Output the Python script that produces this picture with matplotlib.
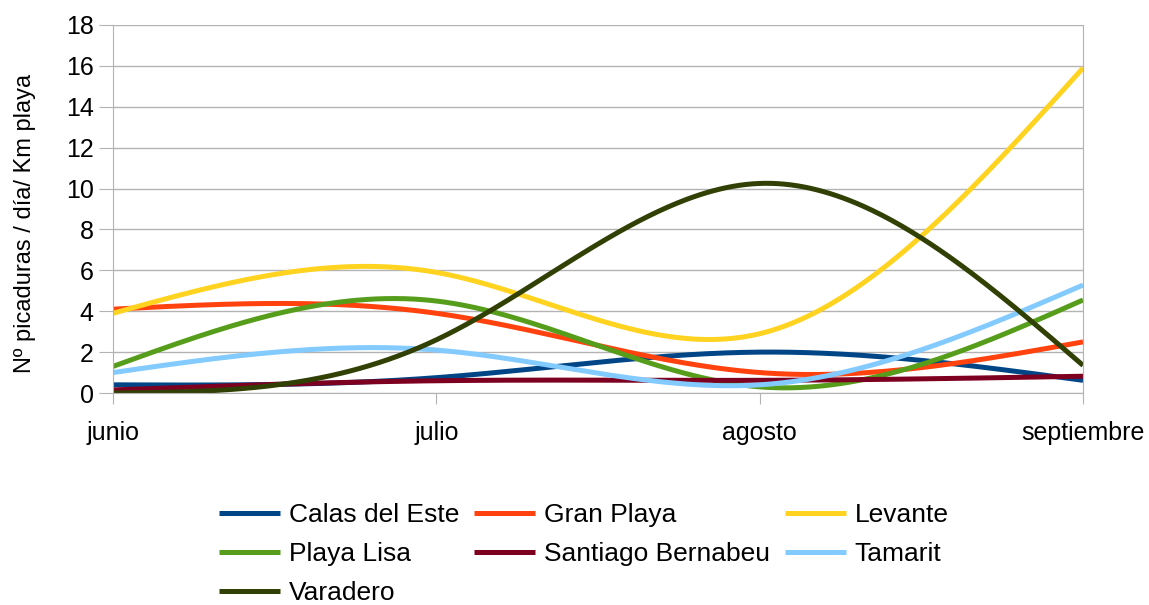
import matplotlib
matplotlib.use("Agg")
import matplotlib.pyplot as plt
import numpy as np

plt.rcParams['font.family'] = ['Liberation Sans', 'DejaVu Sans']

months = ["junio", "julio", "agosto", "septiembre"]

calas_del_este = [0.4, 0.75, 2.0, 0.62]
gran_playa = [4.1, 3.9, 1.0, 2.5]
levante = [3.9, 5.9, 2.9, 15.9]
playa_lisa = [1.3, 4.5, 0.3, 4.55]
santiago_bernabeu = [0.15, 0.6, 0.62, 0.82]
tamarit = [1.0, 2.1, 0.4, 5.28]
varadero = [0.0, 2.6, 10.25, 1.35]

series = [
    ("Calas del Este", calas_del_este, "#004586"),
    ("Gran Playa", gran_playa, "#ff420e"),
    ("Levante", levante, "#ffd320"),
    ("Playa Lisa", playa_lisa, "#579d1c"),
    ("Santiago Bernabeu", santiago_bernabeu, "#7e0021"),
    ("Tamarit", tamarit, "#83caff"),
    ("Varadero", varadero, "#314004"),
]


def natural_spline(y, npts=300):
    # natural cubic spline on x = 0..n-1 (like the smoothed line in calc)
    y = np.asarray(y, dtype=float)
    n = len(y)
    A = np.zeros((n, n))
    b = np.zeros(n)
    A[0, 0] = 1
    A[-1, -1] = 1
    for i in range(1, n - 1):
        A[i, i - 1] = 1
        A[i, i] = 4
        A[i, i + 1] = 1
        b[i] = 6 * (y[i + 1] - 2 * y[i] + y[i - 1])
    M = np.linalg.solve(A, b)
    xs = np.linspace(0, n - 1, npts)
    ys = np.empty_like(xs)
    for k, x in enumerate(xs):
        i = min(int(np.floor(x)), n - 2)
        t = x - i
        ys[k] = (M[i] * (1 - t) ** 3 / 6 + M[i + 1] * t ** 3 / 6
                 + (y[i] - M[i] / 6) * (1 - t) + (y[i + 1] - M[i + 1] / 6) * t)
    return xs, ys


fig = plt.figure(figsize=(11.49, 6.05), dpi=100)
ax = fig.add_axes([0.0983, 0.3504, 0.8443, 0.6083])

lines = []
for name, vals, col in series:
    xs, ys = natural_spline(vals)
    ln, = ax.plot(xs, ys, color=col, lw=3.6, label=name, solid_capstyle='butt')
    lines.append(ln)

ax.set_xlim(0, 3)
ax.set_ylim(0, 18)
ax.set_yticks(range(0, 19, 2))
ax.set_xticks(range(4))
ax.set_xticklabels(months)
ax.grid(axis='y', color='#b3b3b3', lw=1)
ax.set_axisbelow(True)
ax.spines['top'].set_visible(False)
for s in ['left', 'bottom', 'right']:
    ax.spines[s].set_color('#b3b3b3')
ax.tick_params(axis='y', length=10, color='#b3b3b3', labelsize=18, pad=4)
ax.tick_params(axis='x', length=8, color='#b3b3b3', labelsize=18, pad=12)
ax.set_ylabel("Nº picaduras / día/ Km playa", fontsize=17)
ax.yaxis.set_label_coords(-0.079, 0.462)

# legend is filled row by row in the reference
order = [0, 3, 6, 1, 4, 2, 5]
fig.legend([lines[i] for i in order], [series[i][0] for i in order],
           loc='upper left', bbox_to_anchor=(0.191, 0.168), ncol=3,
           frameon=False, fontsize=19, handlelength=2.31, handletextpad=0.34,
           columnspacing=0.55, labelspacing=0.56, borderaxespad=0,
           borderpad=0)

fig.savefig("out.png", dpi=100)
